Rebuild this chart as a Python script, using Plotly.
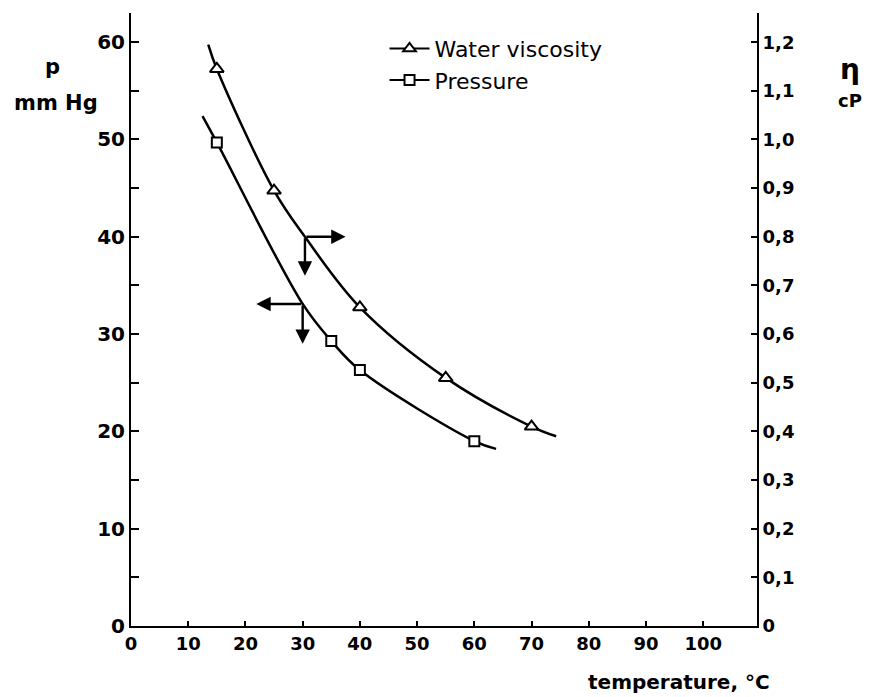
import plotly.graph_objects as go

# ---- data ----
temp_visc = [15, 25, 40, 55, 70]
viscosity = [1.145, 0.895, 0.655, 0.51, 0.41]          # cP (right axis)
temp_press = [15, 35, 40, 60]
pressure = [49.7, 29.3, 26.3, 19.0]                    # mm Hg (left axis)

visc_curve_t = [13.5, 15, 25, 30.4, 40, 55, 70, 74.3]
visc_curve = [1.195, 1.145, 0.895, 0.80, 0.655, 0.51, 0.41, 0.39]
press_curve_t = [12.5, 15, 30, 35, 40, 60, 63.8]
press_curve = [52.4, 49.7, 33.1, 29.3, 26.3, 19.0, 18.2]

x_ticks = [0, 10, 20, 30, 40, 50, 60, 70, 80, 90, 100]
left_ticks = [0, 10, 20, 30, 40, 50, 60]
right_ticks = [0, 0.1, 0.2, 0.3, 0.4, 0.5, 0.6, 0.7, 0.8, 0.9, 1.0, 1.1, 1.2]
right_labels = ["0", "0,1", "0,2", "0,3", "0,4", "0,5", "0,6", "0,7",
                "0,8", "0,9", "1,0", "1,1", "1,2"]

FONT = "DejaVu Sans"
BLK = "black"

fig = go.Figure()

# curves
fig.add_trace(go.Scatter(x=visc_curve_t, y=visc_curve, mode="lines", yaxis="y2",
                         line=dict(color=BLK, width=2.5, shape="spline", smoothing=1.0),
                         showlegend=False, hoverinfo="skip"))
fig.add_trace(go.Scatter(x=press_curve_t, y=press_curve, mode="lines", yaxis="y",
                         line=dict(color=BLK, width=2.5, shape="spline", smoothing=1.0),
                         showlegend=False, hoverinfo="skip"))
# markers
fig.add_trace(go.Scatter(x=temp_visc, y=viscosity, mode="markers", yaxis="y2",
                         marker=dict(symbol="triangle-up", size=12, color="white",
                                     line=dict(color=BLK, width=2)),
                         showlegend=False))
fig.add_trace(go.Scatter(x=temp_press, y=pressure, mode="markers", yaxis="y",
                         marker=dict(symbol="square", size=10, color="white",
                                     line=dict(color=BLK, width=2)),
                         showlegend=False))
# legend entries
fig.add_trace(go.Scatter(x=[None], y=[None], mode="lines+markers", name="Water viscosity",
                         line=dict(color=BLK, width=2),
                         marker=dict(symbol="triangle-up", size=11, color="white",
                                     line=dict(color=BLK, width=2))))
fig.add_trace(go.Scatter(x=[None], y=[None], mode="lines+markers", name="Pressure",
                         line=dict(color=BLK, width=2),
                         marker=dict(symbol="square", size=10, color="white",
                                     line=dict(color=BLK, width=2))))

tickfont = dict(family=FONT, size=18, color=BLK, weight="bold")

fig.update_layout(
    width=871, height=697,
    margin=dict(l=131, r=114, t=13, b=71),
    paper_bgcolor="white", plot_bgcolor="white",
    font=dict(family=FONT, color=BLK),
    xaxis=dict(range=[0, 109.4], tickvals=x_ticks, ticks="inside", ticklen=5,
               tickwidth=2, tickcolor=BLK, showline=True, linewidth=2, linecolor=BLK,
               showgrid=False, zeroline=False, tickfont=tickfont),
    yaxis=dict(range=[0, 63], tickvals=left_ticks, ticks="inside", ticklen=8,
               tickwidth=2, tickcolor=BLK, showline=True, linewidth=2, linecolor=BLK,
               showgrid=False, zeroline=False,
               tickfont=dict(family=FONT, size=20, color=BLK, weight="bold"),
               minor=dict(dtick=5, ticks="inside", ticklen=8, tickwidth=2, tickcolor=BLK,
                          showgrid=False)),
    yaxis2=dict(range=[0, 1.26], overlaying="y", side="right", tickvals=right_ticks,
                ticktext=right_labels, ticks="inside", ticklen=6, tickwidth=2,
                tickcolor=BLK, showline=True, linewidth=2, linecolor=BLK,
                showgrid=False, zeroline=False, tickfont=tickfont),
    legend=dict(x=0.405, y=0.976, xanchor="left", yanchor="top",
                bgcolor="rgba(0,0,0,0)", font=dict(family=FONT, size=22, color=BLK),
                itemwidth=40, tracegroupgap=0),
    showlegend=True,
)

# arrows (tip x, tip y, tail x, tail y) in left-axis units
arrows = [
    (37.5, 40.0, 30.4, 40.0),
    (30.4, 36.0, 30.4, 40.0),
    (21.9, 33.1, 30.0, 33.1),
    (30.0, 29.0, 30.0, 33.1),
]
for (xt, yt, xs, ys) in arrows:
    fig.add_annotation(x=xt, y=yt, ax=xs, ay=ys, xref="x", yref="y", axref="x", ayref="y",
                       text="", showarrow=True, arrowhead=2, arrowsize=1.2,
                       arrowwidth=2.4, arrowcolor=BLK)

# axis titles (pixel positions converted to paper coordinates below)
titles = [
    ("p", 52, 67, "center", 21),
    ("mm Hg", 56, 103, "center", 21),
    ("η", 850, 70, "center", 28),
    ("cP", 850, 101, "center", 18),
    ("temperature, °C", 772, 682, "right", 20),
]
pw, ph = 871 - 131 - 114, 697 - 13 - 71
for (t, px, py, xa, fs) in titles:
    fig.add_annotation(text=t, x=(px - 131) / pw, y=(697 - 71 - py) / ph,
                       xref="paper", yref="paper", xanchor=xa, yanchor="middle",
                       showarrow=False,
                       font=dict(family=FONT, size=fs, color=BLK, weight="bold"))

fig.write_html("out.html")
